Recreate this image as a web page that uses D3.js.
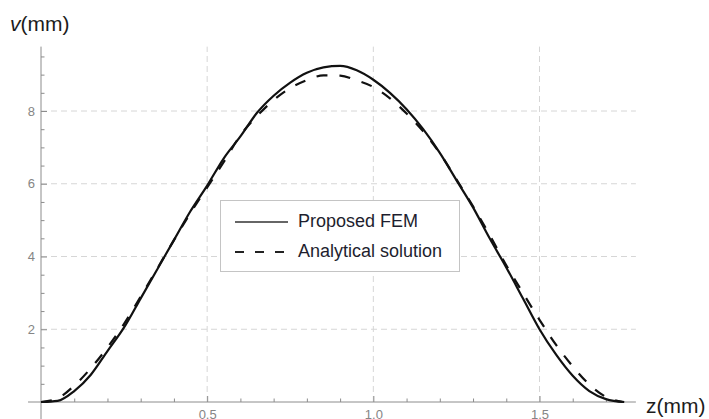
<!DOCTYPE html>
<html>
<head>
<meta charset="utf-8">
<script src="https://cdn.jsdelivr.net/npm/d3@7"></script>
<style>
    body { margin: 0; background: #fff; }
    text { font-family: "Liberation Sans", Arial, sans-serif; }
</style>
</head>
<body>
<div id="viz"></div>
<script>
    var width = 709, height = 419;

    // z positions (mm) for both curves
    var zFem = [0, 0.05, 0.1, 0.15, 0.2, 0.25, 0.3, 0.35, 0.4, 0.45, 0.5, 0.55, 0.6, 0.65, 0.7, 0.75, 0.8, 0.85, 0.9,
                0.95, 1.0, 1.05, 1.1, 1.15, 1.2, 1.25, 1.3, 1.35, 1.4, 1.45, 1.5, 1.55, 1.6, 1.65, 1.7, 1.755];
    var vFem = [0, 0.03, 0.3, 0.75, 1.4, 2.05, 2.85, 3.65, 4.45, 5.25, 5.95, 6.7, 7.3, 7.95, 8.42, 8.78, 9.05, 9.2, 9.24,
                9.12, 8.86, 8.5, 8.05, 7.5, 6.85, 6.1, 5.35, 4.5, 3.7, 2.85, 2.0, 1.3, 0.72, 0.3, 0.08, 0];

    var zAna = [0, 0.05, 0.1, 0.15, 0.2, 0.25, 0.3, 0.35, 0.4, 0.45, 0.5, 0.55, 0.6, 0.65, 0.7, 0.75, 0.8, 0.85, 0.9,
                0.95, 1.0, 1.05, 1.1, 1.15, 1.2, 1.25, 1.3, 1.35, 1.4, 1.45, 1.5, 1.55, 1.6, 1.65, 1.7, 1.75];
    var vAna = [0, 0.1, 0.45, 0.93, 1.5, 2.15, 2.9, 3.67, 4.45, 5.2, 5.9, 6.6, 7.33, 7.86, 8.3, 8.63, 8.85, 8.98, 8.97,
                8.84, 8.66, 8.35, 7.93, 7.44, 6.84, 6.12, 5.38, 4.59, 3.76, 3.0, 2.26, 1.57, 0.98, 0.48, 0.14, 0];

    var xMajor = [0.5, 1.0, 1.5];
    var xMinor = [0.1, 0.2, 0.3, 0.4, 0.6, 0.7, 0.8, 0.9, 1.1, 1.2, 1.3, 1.4, 1.6, 1.7];
    var yMajor = [2, 4, 6, 8];
    var yMinor = [0.5, 1, 1.5, 2.5, 3, 3.5, 4.5, 5, 5.5, 6.5, 7, 7.5, 8.5, 9, 9.5];

    var seriesNames = ["Proposed FEM", "Analytical solution"];

    var x = d3.scaleLinear().domain([0, 1.5]).range([41, 539.5]);
    var y = d3.scaleLinear().domain([0, 8]).range([402, 111]);

    var svg = d3.select("#viz").append("svg")
        .attr("width", width)
        .attr("height", height);

    // grid
    svg.append("g").selectAll("line").data(xMajor).enter().append("line")
        .attr("x1", function(d){ return x(d); }).attr("x2", function(d){ return x(d); })
        .attr("y1", y(0)).attr("y2", y(9.77))
        .style("stroke", "#d6d6d6").style("stroke-dasharray", "6,4");
    svg.append("g").selectAll("line").data(yMajor).enter().append("line")
        .attr("x1", x(0)).attr("x2", x(1.79))
        .attr("y1", function(d){ return y(d); }).attr("y2", function(d){ return y(d); })
        .style("stroke", "#d6d6d6").style("stroke-dasharray", "6,4");

    // axes lines
    svg.append("line").attr("x1", x(-0.039)).attr("x2", x(1.79)).attr("y1", y(0)).attr("y2", y(0))
        .style("stroke", "#8c8c8c");
    svg.append("line").attr("x1", x(0)).attr("x2", x(0)).attr("y1", y(-0.6)).attr("y2", y(9.77))
        .style("stroke", "#8c8c8c");

    // x axis ticks
    var gx = svg.append("g").attr("transform", "translate(0," + y(0) + ")");
    gx.call(d3.axisBottom(x).tickValues(xMinor).tickSize(-3.5).tickFormat(""));
    gx.call(function(g){ g.select(".domain").remove(); });
    var gx2 = svg.append("g").attr("transform", "translate(0," + y(0) + ")");
    gx2.call(d3.axisBottom(x).tickValues(xMajor).tickSize(-6).tickPadding(8).tickFormat(d3.format(".1f")));
    gx2.select(".domain").remove();

    // y axis ticks
    var gy = svg.append("g").attr("transform", "translate(" + x(0) + ",0)");
    gy.call(d3.axisLeft(y).tickValues(yMinor).tickSize(-3.5).tickFormat(""));
    gy.select(".domain").remove();
    var gy2 = svg.append("g").attr("transform", "translate(" + x(0) + ",0)");
    gy2.call(d3.axisLeft(y).tickValues(yMajor).tickSize(-6).tickPadding(6).tickFormat(d3.format("d")));
    gy2.select(".domain").remove();

    svg.selectAll(".tick line").style("stroke", "#8c8c8c");
    svg.selectAll(".tick text").style("fill", "#858585").style("font-size", "13px")
        .style("font-family", "'Liberation Sans', Arial, sans-serif");

    // curves
    var line = d3.line()
        .x(function(d){ return x(d[0]); })
        .y(function(d){ return y(d[1]); })
        .curve(d3.curveMonotoneX);

    var femData = d3.zip(zFem, vFem);
    var anaData = d3.zip(zAna, vAna);

    svg.append("path").datum(anaData).attr("d", line)
        .style("fill", "none").style("stroke", "#111").style("stroke-width", 2.2)
        .style("stroke-dasharray", "11,12");
    svg.append("path").datum(femData).attr("d", line)
        .style("fill", "none").style("stroke", "#111").style("stroke-width", 2.2);

    // axis labels
    var vl = svg.append("text").attr("x", 10).attr("y", 31).style("font-size", "21px").style("fill", "#1c1c1c");
    vl.append("tspan").style("font-style", "italic").text("v");
    vl.append("tspan").text("(mm)");
    svg.append("text").attr("x", 646).attr("y", 413).style("font-size", "21px").style("fill", "#1c1c1c")
        .text("z(mm)");

    // legend
    var lg = svg.append("g");
    lg.append("rect").attr("x", 220.5).attr("y", 200.5).attr("width", 239).attr("height", 71)
        .style("fill", "#fff").style("stroke", "#c4c4c4");
    lg.append("line").attr("x1", 235).attr("x2", 288).attr("y1", 222).attr("y2", 222)
        .style("stroke", "#333").style("stroke-width", 1.5);
    lg.append("line").attr("x1", 235).attr("x2", 284).attr("y1", 252).attr("y2", 252)
        .style("stroke", "#222").style("stroke-width", 2).style("stroke-dasharray", "9,11");
    lg.selectAll("text.leg").data(seriesNames).enter().append("text")
        .attr("class", "leg")
        .attr("x", 298)
        .attr("y", function(d, i){ return 226.5 + i * 30; })
        .style("font-size", "18px").style("fill", "#1e1e2e")
        .text(function(d){ return d; });
</script>
</body>
</html>
